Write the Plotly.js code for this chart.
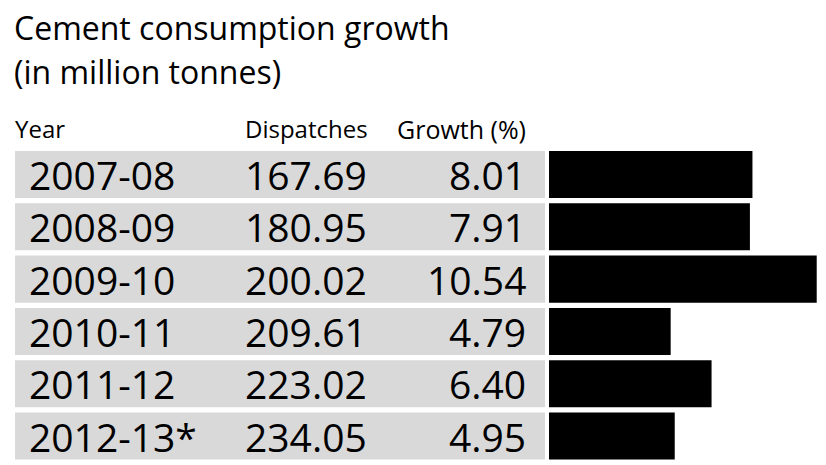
<!DOCTYPE html>
<html>
<head>
<meta charset="utf-8">
<script src="https://cdn.plot.ly/plotly-3.0.1.min.js"></script>
<style>html,body{margin:0;padding:0;background:#fff;}#chart{width:826px;height:465px;}</style>
</head>
<body>
<div id="chart"></div>
<script>
var titleLines = ["Cement consumption growth", "(in million tonnes)"];
var headers = ["Year", "Dispatches", "Growth (%)"];
var years = ["2007-08", "2008-09", "2009-10", "2010-11", "2011-12", "2012-13*"];
var dispatches = [167.69, 180.95, 200.02, 209.61, 223.02, 234.05];
var growth = [8.01, 7.91, 10.54, 4.79, 6.40, 4.95];

var W = 826, H = 465;
function px(x) { return x / W; }
function py(y) { return 1 - y / H; }

var FONT = "Open Sans, sans-serif";
var TXT = "#000";

var trace = {
  type: "bar",
  orientation: "h",
  x: growth,
  y: years,
  marker: { color: "#000", line: { width: 0 } },
  hoverinfo: "skip",
  showlegend: false
};

var shapes = years.map(function (yr, i) {
  return {
    type: "rect", xref: "paper", yref: "y",
    x0: px(15), x1: px(545), y0: i - 0.45, y1: i + 0.45,
    fillcolor: "#d9d9d9", line: { width: 0 }, layer: "below"
  };
});

var annotations = [];
annotations.push({ xref: "paper", yref: "paper", x: px(12), y: py(27), xanchor: "left", yanchor: "middle",
  text: titleLines[0], showarrow: false, font: { family: FONT, size: 32, color: TXT, weight: 500 } });
annotations.push({ xref: "paper", yref: "paper", x: px(12), y: py(72), xanchor: "left", yanchor: "middle",
  text: titleLines[1], showarrow: false, font: { family: FONT, size: 32, color: TXT, weight: 500 } });

var hdrY = py(129);
annotations.push({ xref: "paper", yref: "paper", x: px(13), y: hdrY, xanchor: "left", yanchor: "middle",
  text: headers[0], showarrow: false, font: { family: FONT, size: 24, color: TXT } });
annotations.push({ xref: "paper", yref: "paper", x: px(370), y: hdrY, xanchor: "right", yanchor: "middle",
  text: headers[1], showarrow: false, font: { family: FONT, size: 24, color: TXT } });
annotations.push({ xref: "paper", yref: "paper", x: px(528), y: hdrY, xanchor: "right", yanchor: "middle",
  text: headers[2], showarrow: false, font: { family: FONT, size: 25, color: TXT } });

years.forEach(function (yr, i) {
  annotations.push({ xref: "paper", yref: "y", x: px(27), y: yr, xanchor: "left", yanchor: "middle",
    text: yr, showarrow: false, font: { family: FONT, size: 39, color: TXT } });
  annotations.push({ xref: "paper", yref: "y", x: px(369), y: yr, xanchor: "right", yanchor: "middle",
    text: dispatches[i].toFixed(2), showarrow: false, font: { family: FONT, size: 39, color: TXT } });
  annotations.push({ xref: "paper", yref: "y", x: px(528), y: yr, xanchor: "right", yanchor: "middle",
    text: growth[i].toFixed(2), showarrow: false, font: { family: FONT, size: 39, color: TXT } });
});

var layout = {
  width: W, height: H,
  margin: { l: 0, r: 0, t: 0, b: 0, pad: 0 },
  paper_bgcolor: "#fff", plot_bgcolor: "rgba(0,0,0,0)",
  bargap: 0.1,
  xaxis: { domain: [px(549), 1], range: [0, 277 / 25.4], visible: false, fixedrange: true },
  yaxis: { type: "category", categoryorder: "array", categoryarray: years,
    domain: [py(462.2), py(148.35)], range: [5.5, -0.5], visible: false, fixedrange: true },
  shapes: shapes,
  annotations: annotations,
  showlegend: false
};

Plotly.newPlot("chart", [trace], layout, { displayModeBar: false, staticPlot: true });
</script>
</body>
</html>
